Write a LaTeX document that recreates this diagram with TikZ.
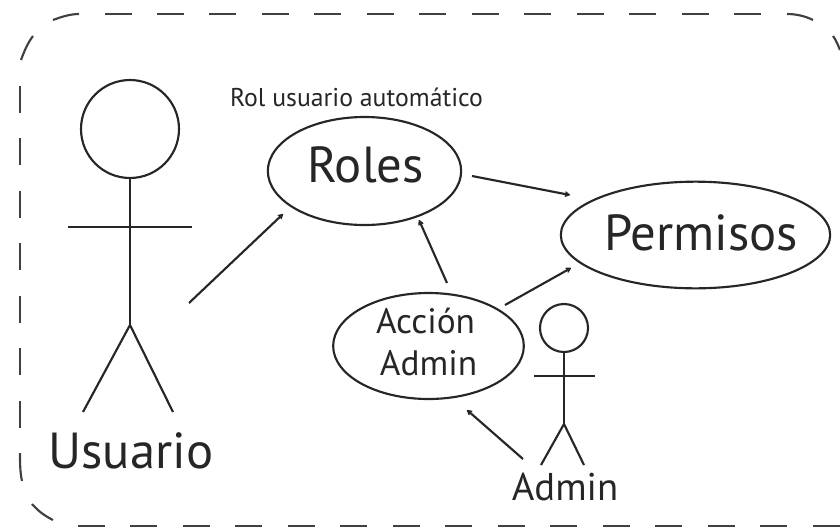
\documentclass[tikz,border=0pt]{standalone}
\usepackage{fontspec}
\setmainfont{PT Sans}
\usetikzlibrary{arrows.meta,shapes.geometric}
\tikzset{
 oval/.style={draw=black!85,line width=1.6pt,ellipse,inner sep=0pt},
 stick/.style={draw=black!85,line width=1.6pt},
 arr/.style={draw=black!85,line width=1.6pt,-{Stealth[length=5pt,width=5.5pt,round]}},
 lbl/.style={inner sep=0pt,text=black!85,anchor=base},
 frame/.style={draw=black!75,line width=1.6pt},
 framedash/.style={frame,dash pattern=on 20.25pt off 19.1pt},
}
\begin{document}
\begin{tikzpicture}[x=0.75pt,y=-0.75pt]
\useasboundingbox (0,0) rectangle (840,529);
\draw[framedash] (104.5,14) -- (765,14);
\draw[framedash] (20,86) -- (20,430);
\draw[framedash] (78,526) -- (840,526);
\draw[frame] (53,20) .. controls (61,17) and (70,14) .. (79,14);
\draw[frame] (33,36) .. controls (27,44) and (24,52) .. (21,60);
\draw[frame] (787,14) .. controls (796,14) and (805,16) .. (813,20);
\draw[frame] (833,36) .. controls (836,40) and (838,45) .. (840,50);
\draw[frame] (20,453) .. controls (20,463) and (20,472) .. (22,481);
\draw[frame] (32,504) .. controls (38,511) and (45,516) .. (53,520);
% usuario
\node[oval,minimum width=73.5pt,minimum height=73.5pt] (h1) at (130,129) {};
\coordinate (w1) at (130,325);
\coordinate (la1) at (68,227);
\coordinate (ra1) at (192,227);
\coordinate (lf1) at (83,412);
\coordinate (rf1) at (173,412);
\draw[stick] (h1.south) -- (w1);
\draw[stick] (la1) -- (ra1);
\draw[stick] (lf1) -- (w1) -- (rf1);
\node[lbl,font=\fontsize{38}{44}\selectfont] (u) at (131,468) {Usuario};
% ovals
\node[oval,minimum width=145pt,minimum height=81pt] (roles) at (364.5,171) {};
\node[lbl,font=\fontsize{38}{44}\selectfont] (rt) at (365.5,182) {Roles};
\node[lbl,font=\fontsize{19.3}{22}\selectfont] (rol) at (356.5,106) {Rol usuario automático};
\node[oval,minimum width=202pt,minimum height=80pt] (perm) at (695.5,235) {};
\node[lbl,font=\fontsize{38}{44}\selectfont] (pt) at (701,250) {Permisos};
\node[oval,minimum width=143pt,minimum height=79.5pt] (acc) at (428.5,346) {};
\node[lbl,font=\fontsize{26.5}{31}\selectfont] (at1) at (425.5,333) {Acción};
\node[lbl,font=\fontsize{26.5}{31}\selectfont] (at2) at (428.5,375) {Admin};
% admin
\node[oval,minimum width=36pt,minimum height=36pt] (h2) at (564,328) {};
\coordinate (w2) at (564,424);
\coordinate (la2) at (534,376);
\coordinate (ra2) at (595,376);
\coordinate (lf2) at (541,465);
\coordinate (rf2) at (584,465);
\draw[stick] (h2.south) -- (w2);
\draw[stick] (la2) -- (ra2);
\draw[stick] (lf2) -- (w2) -- (rf2);
\node[lbl,font=\fontsize{29}{34}\selectfont] (ad) at (565,500) {Admin};
% arrows
\coordinate (a0) at (189,303);
\coordinate (a1) at (283,214);
\draw[arr] (a0) -- (a1);
\coordinate (b0) at (472,176);
\coordinate (b1) at (570,195);
\draw[arr] (b0) -- (b1);
\coordinate (c0) at (447,283);
\coordinate (c1) at (419,220);
\draw[arr] (c0) -- (c1);
\coordinate (d0) at (505,305);
\coordinate (d1) at (571,268);
\draw[arr] (d0) -- (d1);
\coordinate (e0) at (523,459);
\coordinate (e1) at (467,410);
\draw[arr] (e0) -- (e1);
\end{tikzpicture}
\end{document}
